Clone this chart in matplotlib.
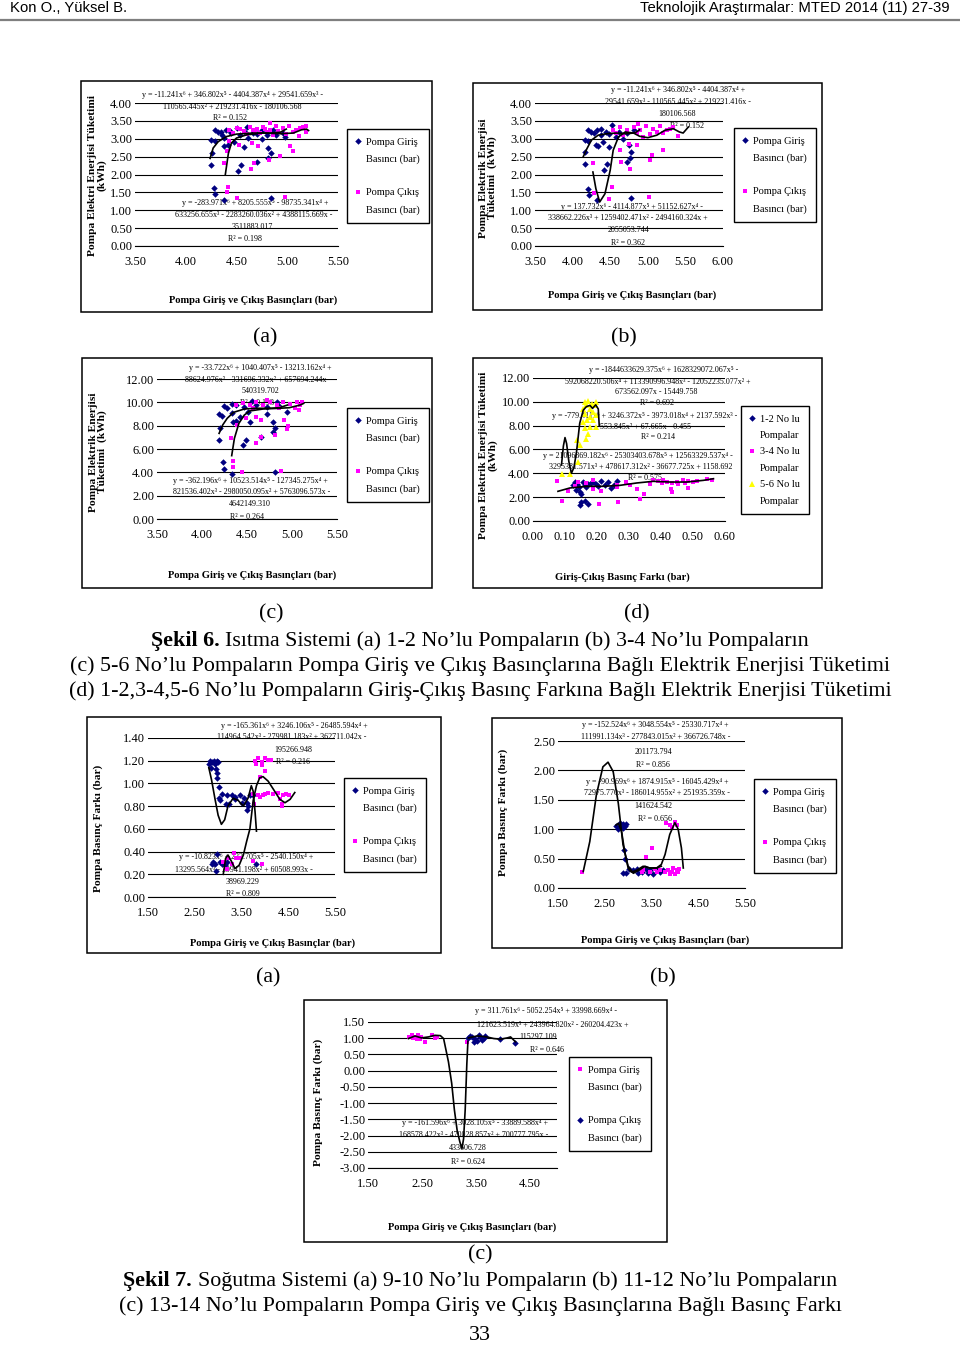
import matplotlib
matplotlib.use('Agg')
import matplotlib.pyplot as plt
from matplotlib.lines import Line2D
from matplotlib.patches import Rectangle
from matplotlib.ticker import FormatStrFormatter
import numpy as np

W, H = 960, 1345

# ---------------- Sekil 6 (a) : 1-2 No'lu pompalar ----------------
a6_giris_x = [4.25, 4.26, 4.25, 4.29, 4.28, 4.29, 4.38, 4.29, 4.32, 4.35,
              4.40, 4.38, 4.38, 4.42, 4.48, 4.50, 4.51, 4.54, 4.57, 4.60,
              4.61, 4.70, 4.75, 4.81, 4.81, 4.84, 4.84, 4.86, 4.98, 4.45,
              4.53, 4.66, 4.75, 4.80, 4.89, 4.96, 4.36, 4.44, 4.58, 4.70]
a6_giris_y = [2.27, 2.61, 2.97, 2.94, 1.61, 1.45, 1.28, 3.25, 3.20, 3.18,
              3.25, 3.02, 2.80, 2.83, 2.92, 3.30, 2.11, 2.27, 2.78, 3.34,
              3.02, 2.36, 2.99, 2.74, 2.47, 2.61, 1.33, 3.25, 3.04, 3.16,
              3.11, 3.16, 3.25, 3.11, 3.11, 3.16, 3.10, 3.22, 3.20, 3.12]
a6_cikis_x = [4.38, 4.41, 4.42, 4.41, 4.50, 4.43, 4.52, 4.64, 4.67, 4.65,
              4.71, 4.82, 4.93, 4.98, 5.03, 5.06, 5.12, 4.83, 4.43, 4.50,
              4.57, 4.63, 4.70, 4.76, 4.83, 4.89, 4.96, 5.02, 5.09, 5.16,
              5.18, 5.18, 4.47, 4.60, 4.73, 4.86, 4.99, 5.06, 4.66, 4.80,
              4.53, 4.68, 4.91, 5.13, 4.78]
a6_cikis_y = [2.31, 2.67, 1.66, 1.50, 1.33, 2.94, 2.83, 2.15, 2.33, 2.88,
              2.80, 2.41, 2.52, 1.38, 2.80, 2.66, 3.08, 3.44, 3.25, 3.30,
              3.23, 3.34, 3.27, 3.32, 3.25, 3.36, 3.30, 3.36, 3.25, 3.34,
              3.18, 3.36, 3.16, 3.14, 3.16, 3.11, 3.14, 3.20, 3.25, 3.20,
              3.28, 3.20, 3.22, 3.30, 3.28]
a6_fit1_x = [4.24, 4.27, 4.32, 4.40, 4.50, 4.66, 4.83, 4.93, 4.99]
a6_fit1_y = [2.45, 2.74, 2.92, 3.06, 3.13, 3.16, 3.16, 3.18, 3.27]
a6_fit2_x = [4.39, 4.42, 4.45, 4.50, 4.60, 4.76, 4.93, 5.06, 5.14, 5.19, 5.21]
a6_fit2_y = [2.00, 2.59, 2.88, 3.02, 3.11, 3.16, 3.14, 3.16, 3.25, 3.27, 3.23]

# ---------------- Sekil 6 (b) : 3-4 No'lu pompalar ----------------
b6_giris_x = [4.16, 4.17, 4.16, 4.21, 4.20, 4.22, 4.32, 4.20, 4.25, 4.32,
              4.38, 4.31, 4.34, 4.40, 4.42, 4.46, 4.49, 4.53, 4.49, 4.38,
              4.58, 4.72, 4.67, 4.76, 4.78, 4.75, 4.78, 4.72, 4.81, 4.28,
              4.44, 4.62]
b6_giris_y = [2.28, 2.63, 2.97, 2.94, 1.60, 1.44, 1.28, 3.25, 3.19, 3.24,
              3.28, 2.82, 2.79, 2.91, 2.12, 2.28, 2.77, 3.38, 3.14, 3.10,
              3.05, 2.35, 3.00, 2.47, 2.63, 2.82, 1.34, 3.16, 3.24, 3.15,
              3.20, 3.18]
b6_cikis_x = [4.27, 4.29, 4.52, 4.49, 4.63, 4.65, 4.76, 4.75, 4.85, 5.06,
              5.03, 5.02, 5.20, 4.87, 5.40, 4.54, 4.63, 4.72, 4.81, 4.89,
              4.98, 5.07, 5.16, 5.25, 5.34, 4.67, 4.85, 5.03, 5.20, 5.29,
              4.58, 4.94, 5.12]
b6_cikis_y = [2.33, 1.49, 1.65, 1.32, 2.68, 2.35, 2.14, 2.86, 2.83, 2.54,
              2.40, 1.37, 2.68, 3.42, 3.07, 3.24, 3.33, 3.24, 3.33, 3.25,
              3.37, 3.28, 3.35, 3.24, 3.33, 3.10, 3.16, 3.12, 3.16, 3.26,
              3.16, 3.05, 3.19]
b6_fit1_x = [4.14, 4.19, 4.25, 4.34, 4.45, 4.58, 4.72, 4.81, 4.85, 4.89]
b6_fit1_y = [2.49, 2.72, 2.96, 3.10, 3.14, 3.16, 3.14, 3.16, 3.19, 3.25]
b6_fit2_x = [4.27, 4.31, 4.36, 4.43, 4.50, 4.54, 4.61, 4.70, 4.81, 4.89,
             5.00, 5.12, 5.23, 5.34, 5.42, 5.47, 5.54]
b6_fit2_y = [2.07, 1.60, 1.23, 1.46, 2.12, 2.68, 3.05, 3.19, 3.16, 3.07,
             3.03, 3.10, 3.24, 3.28, 3.19, 3.16, 3.33]

# ---------------- Sekil 6 (c) : 5-6 No'lu pompalar ----------------
c6_giris_x = [4.19, 4.19, 4.22, 4.20, 4.23, 4.24, 4.33, 4.24, 4.28, 4.33,
              4.35, 4.38, 4.33, 4.42, 4.45, 4.49, 4.53, 4.56, 4.51, 4.66,
              4.72, 4.79, 4.79, 4.81, 4.81, 4.83, 4.94, 4.38, 4.47, 4.60,
              4.72, 4.86]
c6_giris_y = [6.77, 8.97, 8.83, 7.83, 4.86, 4.29, 3.86, 9.71, 9.54, 9.83,
              8.34, 8.40, 9.06, 8.74, 6.34, 6.77, 8.34, 10.11, 9.20, 7.06,
              8.97, 8.34, 7.43, 7.83, 4.06, 10.06, 9.20, 9.77, 9.63, 9.77,
              9.63, 9.71]
c6_cikis_x = [4.32, 4.35, 4.34, 4.44, 4.39, 4.49, 4.60, 4.66, 4.60, 4.66,
              4.81, 4.91, 4.94, 4.96, 4.88, 4.72, 4.38, 4.45, 4.53, 4.60,
              4.68, 4.75, 4.83, 4.90, 4.98, 5.05, 5.09, 5.11, 5.03, 5.08,
              4.86, 4.57]
c6_cikis_y = [6.97, 4.97, 4.49, 4.00, 8.06, 8.63, 6.49, 7.00, 8.77, 8.51,
              7.20, 8.51, 7.71, 8.00, 4.15, 10.20, 9.77, 9.91, 9.77, 10.00,
              9.77, 10.00, 9.77, 10.06, 9.83, 10.00, 9.77, 10.06, 9.49, 9.34,
              9.49, 9.49]
c6_fit1_x = [4.19, 4.23, 4.28, 4.35, 4.47, 4.60, 4.75, 4.86, 4.95]
c6_fit1_y = [7.34, 8.06, 8.63, 9.14, 9.43, 9.49, 9.49, 9.54, 9.77]
c6_fit2_x = [4.33, 4.36, 4.41, 4.47, 4.53, 4.68, 4.86, 4.97, 5.09, 5.13]
c6_fit2_y = [5.43, 6.91, 8.20, 8.91, 9.26, 9.43, 9.49, 9.54, 9.77, 9.91]

# ---------------- Sekil 6 (d) : basinc farki ----------------
d6_p12_x = [0.131, 0.134, 0.138, 0.144, 0.148, 0.151, 0.151, 0.146, 0.162, 0.172,
            0.157, 0.162, 0.172, 0.188, 0.196, 0.204, 0.214, 0.225, 0.235, 0.245,
            0.253, 0.261, 0.167, 0.125, 0.180]
d6_p12_y = [3.27, 2.57, 3.13, 2.85, 2.43, 2.29, 1.59, 1.37, 1.65, 1.45,
            3.27, 2.99, 3.13, 3.27, 3.13, 2.91, 3.33, 3.05, 3.27, 2.77,
            3.05, 3.33, 2.85, 3.05, 3.20]
d6_p34_x = [0.075, 0.091, 0.110, 0.131, 0.141, 0.167, 0.188, 0.214, 0.207, 0.261,
            0.266, 0.292, 0.303, 0.324, 0.334, 0.347, 0.365, 0.376, 0.391, 0.407,
            0.418, 0.433, 0.431, 0.433, 0.449, 0.470, 0.485, 0.485, 0.501, 0.543,
            0.559, 0.261, 0.188, 0.402, 0.454, 0.475, 0.511]
d6_p34_y = [3.36, 1.65, 2.49, 2.94, 3.27, 3.22, 3.41, 2.49, 1.45, 3.05,
            1.59, 3.27, 2.99, 2.71, 1.82, 2.29, 3.13, 3.41, 3.33, 3.41,
            3.27, 3.19, 2.66, 2.43, 3.27, 3.41, 3.33, 2.80, 3.27, 3.50,
            3.41, 2.85, 2.71, 3.22, 3.13, 3.22, 3.33]
d6_p56_x = [0.090, 0.115, 0.141, 0.136, 0.146, 0.162, 0.167, 0.172, 0.178, 0.196,
            0.162, 0.167, 0.172, 0.178, 0.183, 0.188, 0.193, 0.198, 0.157, 0.162,
            0.169, 0.178, 0.188, 0.198, 0.157]
d6_p56_y = [3.97, 3.97, 4.95, 6.77, 6.41, 7.80, 6.91, 7.33, 7.89, 7.89,
            9.99, 9.71, 10.04, 9.43, 9.85, 9.15, 9.71, 9.99, 9.43, 9.01,
            8.45, 8.73, 8.45, 8.87, 8.31]
d6_fit56_x = [0.089, 0.095, 0.100, 0.105, 0.112, 0.120, 0.128, 0.136, 0.146, 0.157,
              0.167, 0.178, 0.186, 0.196, 0.204, 0.207]
d6_fit56_y = [4.7, 6.3, 7.0, 6.5, 5.0, 4.0, 4.5, 5.8, 8.2, 9.3,
              9.6, 9.7, 9.45, 9.75, 9.4, 8.0]
d6_fitlow_x = [0.078, 0.115, 0.167, 0.219, 0.271, 0.324, 0.376, 0.428, 0.480, 0.532, 0.564]
d6_fitlow_y = [2.49, 2.77, 2.91, 2.91, 2.99, 3.19, 3.33, 3.27, 3.27, 3.41, 3.55]

# ---------------- Sekil 7 (a) : 9-10 No'lu pompalar ----------------
a7_giris_x = [2.80, 2.83, 2.87, 2.91, 2.94, 2.97, 3.00, 2.85, 2.95, 2.97,
              2.98, 3.02, 3.02, 3.09, 3.18, 3.29, 3.36, 3.46, 3.55, 3.61,
              3.69, 3.24, 3.16, 3.51, 3.61, 3.64, 3.04, 3.36, 2.89, 2.94,
              2.98, 2.96, 2.86, 3.04, 3.09, 3.14, 3.18, 3.81, 3.75]
a7_giris_y = [1.17, 1.20, 1.19, 1.20, 1.17, 1.20, 1.19, 1.14, 1.13, 1.09,
              1.05, 0.97, 0.87, 0.91, 0.90, 0.90, 0.88, 0.90, 0.87, 0.83,
              0.90, 0.82, 0.82, 0.83, 0.77, 0.80, 0.85, 0.86, 0.31, 0.29,
              0.38, 0.23, 0.29, 0.31, 0.29, 0.28, 0.31, 0.29, 0.90]
a7_cikis_x = [3.79, 3.86, 3.93, 4.00, 4.07, 4.14, 3.82, 3.93, 4.00, 3.89,
              3.74, 3.76, 3.86, 3.96, 4.07, 4.18, 4.29, 4.39, 4.46, 4.32,
              4.36, 4.37, 3.89, 4.00, 4.52, 3.11, 3.21, 3.34, 3.39, 3.46,
              3.29, 3.74, 3.94, 3.18]
a7_cikis_y = [1.20, 1.22, 1.19, 1.22, 1.21, 1.21, 1.17, 1.16, 1.11, 1.06,
              0.91, 0.82, 0.90, 0.90, 0.92, 0.91, 0.92, 0.90, 0.91, 0.86,
              0.82, 0.80, 0.88, 0.91, 0.90, 0.31, 0.34, 0.39, 0.34, 0.34,
              0.29, 0.32, 0.29, 0.25]
a7_fit1_x = [2.80, 2.86, 2.93, 3.00, 3.07, 3.14, 3.21, 3.32, 3.43, 3.54,
             3.64, 3.71, 3.75, 3.79, 3.82]
a7_fit1_y = [1.14, 1.03, 0.87, 0.72, 0.64, 0.68, 0.80, 0.87, 0.85, 0.80,
             0.87, 0.98, 0.93, 0.75, 0.58]
a7_fit2_x = [3.11, 3.16, 3.21, 3.29, 3.36, 3.45, 3.54, 3.61, 3.68, 3.75,
             3.82, 3.89, 3.96, 4.07, 4.18, 4.32, 4.43, 4.54, 4.64]
a7_fit2_y = [0.20, 0.34, 0.37, 0.31, 0.25, 0.28, 0.37, 0.49, 0.60, 0.85,
             0.98, 1.05, 1.06, 1.02, 0.95, 0.86, 0.83, 0.86, 0.92]

# ---------------- Sekil 7 (b) : 11-12 No'lu pompalar ----------------
b7_giris_x = [2.75, 2.82, 2.86, 2.89, 2.93, 2.96, 2.79, 2.88, 2.91, 2.94,
              2.88, 2.95, 3.02, 3.11, 3.18, 3.29, 3.43, 3.54, 3.61, 3.68,
              3.46, 3.39, 3.75, 3.21]
b7_giris_y = [1.06, 1.10, 1.03, 1.09, 1.06, 1.09, 1.00, 1.02, 0.65, 0.50,
              0.25, 0.25, 0.33, 0.31, 0.33, 0.28, 0.25, 0.24, 0.31, 0.28,
              0.31, 0.33, 0.31, 0.25]
b7_cikis_x = [2.02, 3.39, 3.50, 3.68, 3.79, 3.86, 3.93, 3.96, 4.04, 4.07,
              3.89, 4.00, 3.82, 3.89, 4.00, 4.04, 3.93, 4.09, 3.32, 3.46,
              3.57, 3.61, 3.29]
b7_cikis_y = [0.28, 0.52, 0.68, 0.31, 0.28, 0.31, 0.27, 0.34, 0.31, 0.27,
              0.23, 0.23, 1.10, 1.07, 1.13, 1.07, 1.04, 0.33, 0.31, 0.28,
              0.33, 0.28, 0.27]
b7_fit1_x = [2.04, 2.18, 2.32, 2.46, 2.57, 2.68, 2.79, 2.89, 3.00, 3.11,
             3.25, 3.36, 3.46, 3.61, 3.71, 3.79, 3.89, 4.00, 4.07, 4.14, 4.18]
b7_fit1_y = [0.28, 0.79, 1.58, 2.06, 2.14, 1.98, 1.44, 0.74, 0.37, 0.25,
             0.31, 0.37, 0.34, 0.34, 0.40, 0.57, 0.91, 1.11, 1.00, 0.68, 0.34]
b7_fit2_x = [2.74, 2.79, 2.86, 2.93, 3.00, 3.07, 3.18, 3.32, 3.46, 3.61, 3.71]
b7_fit2_y = [1.07, 1.10, 0.96, 0.60, 0.34, 0.27, 0.30, 0.37, 0.34, 0.34, 0.37]

# ---------------- Sekil 7 (c) : 13-14 No'lu pompalar ----------------
c7_giris_x = [2.25, 2.31, 2.37, 2.43, 2.49, 2.40, 2.46, 2.56, 2.34, 2.68, 2.74, 2.77, 3.33]
c7_giris_y = [1.04, 1.09, 1.04, 1.09, 1.04, 0.99, 0.99, 0.89, 1.01, 1.09, 1.01, 1.04, 0.89]
c7_cikis_x = [3.36, 3.43, 3.49, 3.52, 3.58, 3.64, 3.67, 3.46, 3.61, 3.95, 4.23, 3.39, 3.55]
c7_cikis_y = [1.01, 1.04, 0.99, 0.91, 1.04, 1.01, 1.07, 0.89, 0.94, 0.99, 0.84, 1.07, 1.09]
c7_fit1_x = [2.25, 2.37, 2.49, 2.62, 2.74, 2.84, 2.90, 2.99, 3.05, 3.10,
             3.15, 3.20, 3.24, 3.27, 3.30, 3.33, 3.35]
c7_fit1_y = [0.99, 1.07, 1.01, 1.04, 1.09, 1.08, 0.99, 0.27, -0.39, -1.21,
             -1.83, -2.19, -2.40, -2.10, -1.20, 0.20, 0.90]
c7_fit2_x = [3.36, 3.52, 3.70, 3.83, 3.95, 4.08, 4.14, 4.23]
c7_fit2_y = [1.01, 1.07, 1.04, 0.99, 0.97, 1.01, 1.04, 0.89]

# ---------------- metinler ----------------
lbl_giris = ['Pompa Giriş', 'Basıncı (bar)']
lbl_cikis = ['Pompa Çıkış', 'Basıncı (bar)']
xlab_basinc = 'Pompa Giriş ve Çıkış Basınçları (bar)'

plt.rcParams['font.family'] = ['Liberation Serif', 'DejaVu Serif']
SERIF = ['Liberation Serif', 'DejaVu Serif']

GIRIS = dict(marker='D', color='#000080', ms=3.3, ls='none', mew=0, zorder=2)
CIKIS = dict(marker='s', color='#ff00ff', ms=3.0, ls='none', mew=0, zorder=2)
SARI = dict(marker='^', color='#ffff00', ms=4.4, ls='none', mew=0, zorder=2)
FIT = dict(color='black', lw=1.2, zorder=3)

fig = plt.figure(figsize=(W / 100, H / 100), dpi=100)


def fx(x):
    return x / W


def fy(y):
    return 1 - y / H


def box(x0, y0, x1, y1, lw=1.1):
    fig.add_artist(Rectangle((fx(x0), fy(y1)), (x1 - x0) / W, (y1 - y0) / H,
                             transform=fig.transFigure, fill=False,
                             ec='black', lw=lw))


def chart(area, xlim, xticks, ylim, yticks):
    x0, y0, x1, y1 = area
    ax = fig.add_axes([fx(x0), fy(y1), (x1 - x0) / W, (y1 - y0) / H])
    ax.set_xlim(xlim)
    ax.set_ylim(ylim)
    ax.set_xticks(xticks)
    ax.set_yticks(yticks)
    ax.xaxis.set_major_formatter(FormatStrFormatter('%.2f'))
    ax.yaxis.set_major_formatter(FormatStrFormatter('%.2f'))
    ax.grid(axis='y', color='black', lw=0.8)
    ax.set_axisbelow(True)
    for s in ['top', 'right', 'left']:
        ax.spines[s].set_visible(False)
    ax.spines['bottom'].set_linewidth(0.8)
    ax.tick_params(axis='both', length=0, labelsize=9)
    ax.tick_params(axis='x', pad=7.5)
    ax.tick_params(axis='y', pad=2)
    ax.patch.set_alpha(0)
    return ax


def equations(ax, items):
    # trend line equations, drawn under the points
    for x, y, s in items:
        ax.text(fx(x), fy(y), s, transform=fig.transFigure, ha='center',
                va='center', fontsize=5.8, family=SERIF, zorder=1.5,
                clip_on=False)


def legend(ax, rows, cx, cy, spacing=0.72, pad=0.85):
    handles = [h if h is not None else Line2D([], [], ls='none') for h, _ in rows]
    labels = [t for _, t in rows]
    leg = ax.legend(handles, labels, loc='center', bbox_to_anchor=(fx(cx), fy(cy)),
                    bbox_transform=fig.transFigure, frameon=True, fancybox=False,
                    edgecolor='black', framealpha=1, fontsize=7.5,
                    handlelength=0.4, handletextpad=0.55, labelspacing=spacing,
                    borderpad=pad, borderaxespad=0, numpoints=1)
    leg.get_frame().set_linewidth(1.0)
    leg.set_zorder(6)


def axis_titles(ylab, ypos, xlab, xpos, ysize=8.2):
    fig.text(fx(ypos[0]), fy(ypos[1]), ylab, rotation=90, ha='center', va='center',
             fontsize=ysize, weight='bold', linespacing=1.05, multialignment='center')
    fig.text(fx(xpos[0]), fy(xpos[1]), xlab, ha='center', va='center',
             fontsize=7.6, weight='bold')


def pair_rows(h1, l1, h2, l2):
    return [(h1, l1[0]), (None, l1[1]), (None, ' '), (h2, l2[0]), (None, l2[1])]


# ---------------- header ----------------
fig.text(fx(10), fy(8), 'Kon O., Yüksel B.', fontsize=10.7,
         family=['Liberation Sans', 'DejaVu Sans'], va='center')
fig.text(fx(950), fy(8), 'Teknolojik Araştırmalar: MTED 2014 (11) 27-39', fontsize=10.7,
         family=['Liberation Sans', 'DejaVu Sans'], va='center', ha='right')
fig.add_artist(Line2D([0, 1], [fy(20), fy(20)], transform=fig.transFigure,
                      color='#7f7f7f', lw=1.6))

# ---------------- 6 (a) ----------------
box(81, 81, 432, 312)
ax = chart((135, 103, 338, 246), (3.5, 5.5), np.arange(3.5, 5.51, 0.5), (0, 4), np.arange(0, 4.01, 0.5))
h1, = ax.plot(a6_giris_x, a6_giris_y, **GIRIS)
h2, = ax.plot(a6_cikis_x, a6_cikis_y, **CIKIS)
ax.plot(a6_fit1_x, a6_fit1_y, **FIT)
ax.plot(a6_fit2_x, a6_fit2_y, **FIT)
equations(ax, [
    (232, 95, 'y = -11.241x⁶ + 346.802x⁵ - 4404.387x⁴ + 29541.659x³ -'),
    (232, 107, '110565.445x² + 219231.416x - 180106.568'),
    (230, 118, 'R² = 0.152'),
    (255, 203, 'y = -283.971x⁶ + 8205.555x⁵ - 98735.341x⁴ +'),
    (254, 215, '633256.655x³ - 2283260.036x² + 4388115.669x -'),
    (252, 227, '3511883.017'),
    (245, 239, 'R² = 0.198'),
])
legend(ax, pair_rows(h1, lbl_giris, h2, lbl_cikis), 388, 176)
axis_titles('Pompa Elektri Enerjisi Tüketimi\n(kWh)', (97, 175), xlab_basinc, (253, 300))

# ---------------- 6 (b) ----------------
box(473, 83, 822, 310)
ax = chart((535, 103, 723, 246), (3.5, 6.0), np.arange(3.5, 6.01, 0.5), (0, 4), np.arange(0, 4.01, 0.5))
h1, = ax.plot(b6_giris_x, b6_giris_y, **GIRIS)
h2, = ax.plot(b6_cikis_x, b6_cikis_y, **CIKIS)
ax.plot(b6_fit1_x, b6_fit1_y, **FIT)
ax.plot(b6_fit2_x, b6_fit2_y, **FIT)
equations(ax, [
    (678, 90, 'y = -11.241x⁶ + 346.802x⁵ - 4404.387x⁴ +'),
    (678, 102, '29541.659x³ - 110565.445x² + 219231.416x -'),
    (677, 114, '180106.568'),
    (687, 126, 'R² = 0.152'),
    (632, 207, 'y = 137.732x⁶ - 4114.877x⁵ + 51152.627x⁴ -'),
    (628, 218, '338662.226x³ + 1259402.471x² - 2494160.324x +'),
    (628, 230, '2055053.744'),
    (628, 243, 'R² = 0.362'),
])
legend(ax, pair_rows(h1, lbl_giris, h2, lbl_cikis), 775, 175)
axis_titles('Pompa Elektrik Enerjisi\nTüketimi  (kWh)', (488, 178), xlab_basinc, (632, 295))

# ---------------- 6 (c) ----------------
box(82, 358, 432, 588)
ax = chart((157, 379, 337, 519), (3.5, 5.5), np.arange(3.5, 5.51, 0.5), (0, 12), np.arange(0, 12.1, 2))
h1, = ax.plot(c6_giris_x, c6_giris_y, **GIRIS)
h2, = ax.plot(c6_cikis_x, c6_cikis_y, **CIKIS)
ax.plot(c6_fit1_x, c6_fit1_y, **FIT)
ax.plot(c6_fit2_x, c6_fit2_y, **FIT)
equations(ax, [
    (260, 368, 'y = -33.722x⁶ + 1040.407x⁵ - 13213.162x⁴ +'),
    (258, 380, '88624.976x³ - 331696.332x² + 657694.244x -'),
    (260, 391, '540319.702'),
    (257, 403, 'R² = 0.193'),
    (250, 481, 'y = -362.196x⁶ + 10523.514x⁵ - 127345.275x⁴ +'),
    (252, 492, '821536.402x³ - 2980050.095x² + 5763096.573x -'),
    (250, 504, '4642149.310'),
    (247, 517, 'R² = 0.264'),
])
legend(ax, pair_rows(h1, lbl_giris, h2, lbl_cikis), 388, 455)
axis_titles('Pompa Elektrik Enerjisi\nTüketimi  (kWh)', (98, 452), xlab_basinc, (252, 575))

# ---------------- 6 (d) ----------------
box(473, 358, 822, 588)
ax = chart((533, 378, 725, 521), (0, 0.6), np.arange(0, 0.61, 0.1), (0, 12), np.arange(0, 12.1, 2))
h1, = ax.plot(d6_p12_x, d6_p12_y, **GIRIS)
h2, = ax.plot(d6_p34_x, d6_p34_y, **CIKIS)
h3, = ax.plot(d6_p56_x, d6_p56_y, **SARI)
ax.plot(d6_fit56_x, d6_fit56_y, **FIT)
ax.plot(d6_fitlow_x, d6_fitlow_y, **FIT)
equations(ax, [
    (664, 370, 'y = -1844633629.375x⁶ + 1628329072.067x⁵ -'),
    (658, 382, '592068220.506x⁴ + 113390996.948x³ - 12052235.077x² +'),
    (656, 392, '673562.097x - 15449.758'),
    (657, 403, 'R² = 0.692'),
    (645, 416, 'y = -779.411x⁶ + 3246.372x⁵ - 3973.018x⁴ + 2137.592x³ -'),
    (646, 427, '553.845x² + 67.665x - 0.455'),
    (658, 437, 'R² = 0.214'),
    (638, 456, 'y = 21096869.182x⁶ - 25303403.678x⁵ + 12563329.537x⁴ -'),
    (641, 467, '3295381.571x³ + 478617.312x² - 36677.725x + 1158.692'),
    (645, 478, 'R² = 0.575'),
])
legend(ax, [(h1, '1-2 No lu'), (None, 'Pompalar'), (h2, '3-4 No lu'), (None, 'Pompalar'),
            (h3, '5-6 No lu'), (None, 'Pompalar')], 775, 460, spacing=0.68, pad=0.85)
axis_titles('Pompa Elektrik Enerjisi Tüketimi\n(kWh)', (488, 455),
            'Giriş-Çıkış Basınç Farkı (bar)', (622, 577))

# ---------------- 7 (a) ----------------
box(87, 717, 441, 953)
ax = chart((148, 738, 335, 897), (1.5, 5.5), np.arange(1.5, 5.51, 1.0), (0, 1.4), np.arange(0, 1.41, 0.2))
h1, = ax.plot(a7_giris_x, a7_giris_y, **GIRIS)
h2, = ax.plot(a7_cikis_x, a7_cikis_y, **CIKIS)
ax.plot(a7_fit1_x, a7_fit1_y, **FIT)
ax.plot(a7_fit2_x, a7_fit2_y, **FIT)
equations(ax, [
    (294, 726, 'y = -165.361x⁶ + 3246.106x⁵ - 26485.594x⁴ +'),
    (292, 737, '114964.542x³ - 279981.183x² + 362711.042x -'),
    (293, 750, '195266.948'),
    (293, 762, 'R² = 0.216'),
    (246, 857, 'y = -10.823x⁶ + 223.705x⁵ - 2540.150x⁴ +'),
    (244, 870, '13295.564x³ - 39941.198x² + 60508.993x -'),
    (243, 882, '38969.229'),
    (243, 894, 'R² = 0.809'),
])
legend(ax, pair_rows(h1, lbl_giris, h2, lbl_cikis), 385, 825)
axis_titles('Pompa Basınç Farkı (bar)', (98, 828), 'Pompa Giriş ve Çıkış Basınçlar (bar)', (273, 943))

# ---------------- 7 (b) ----------------
box(492, 718, 842, 948)
ax = chart((558, 741, 745, 888), (1.5, 5.5), np.arange(1.5, 5.51, 1.0), (0, 2.5), np.arange(0, 2.51, 0.5))
h1, = ax.plot(b7_giris_x, b7_giris_y, **GIRIS)
h2, = ax.plot(b7_cikis_x, b7_cikis_y, **CIKIS)
ax.plot(b7_fit1_x, b7_fit1_y, **FIT)
ax.plot(b7_fit2_x, b7_fit2_y, **FIT)
equations(ax, [
    (655, 725, 'y = -152.524x⁶ + 3048.554x⁵ - 25330.717x⁴ +'),
    (656, 737, '111991.134x³ - 277843.015x² + 366726.748x -'),
    (653, 752, '201173.794'),
    (653, 765, 'R² = 0.856'),
    (657, 782, 'y = -90.969x⁶ + 1874.915x⁵ - 16045.429x⁴ +'),
    (657, 793, '72975.770x³ - 186014.955x² + 251935.359x -'),
    (653, 806, '141624.542'),
    (655, 819, 'R² = 0.656'),
])
legend(ax, pair_rows(h1, lbl_giris, h2, lbl_cikis), 795, 826)
axis_titles('Pompa Basınç Farkı (bar)', (503, 812), xlab_basinc, (665, 940))

# ---------------- 7 (c) ----------------
box(304, 1000, 667, 1242)
ax = chart((368, 1022, 557, 1168), (1.5, 5.0), np.arange(1.5, 4.51, 1.0), (-3, 1.5), np.arange(-3, 1.51, 0.5))
h2, = ax.plot(c7_giris_x, c7_giris_y, **CIKIS)
h1, = ax.plot(c7_cikis_x, c7_cikis_y, **GIRIS)
ax.plot(c7_fit1_x, c7_fit1_y, **FIT)
ax.plot(c7_fit2_x, c7_fit2_y, **FIT)
equations(ax, [
    (546, 1011, 'y = 311.761x⁶ - 5052.254x⁵ + 33998.669x⁴ -'),
    (553, 1025, '121623.519x³ + 243964.820x² - 260204.423x +'),
    (538, 1037, '115297.109'),
    (547, 1050, 'R² = 0.646'),
    (475, 1123, 'y = -161.596x⁶ + 3028.105x⁵ - 33889.588x⁴ +'),
    (474, 1135, '168578.422x³ - 470028.857x² + 700777.795x -'),
    (468, 1148, '433606.728'),
    (468, 1162, 'R² = 0.624'),
])
legend(ax, pair_rows(h2, lbl_giris, h1, lbl_cikis), 610, 1104)
axis_titles('Pompa Basınç Farkı (bar)', (318, 1102), xlab_basinc, (472, 1227))

# ---------------- sub labels and captions ----------------
CAP = 15.8
for s, x, y in [('(a)', 265, 338), ('(b)', 624, 338), ('(c)', 271, 614), ('(d)', 637, 614),
                ('(a)', 268, 978), ('(b)', 663, 978), ('(c)', 480, 1255)]:
    fig.text(fx(x), fy(y), s, ha='center', va='center', fontsize=CAP)

renderer = fig.canvas.get_renderer()


def caption(y, bold, rest):
    t1 = fig.text(0, fy(y), bold, fontsize=CAP, weight='bold', va='baseline')
    t2 = fig.text(0, fy(y), rest, fontsize=CAP, va='baseline')
    w1 = t1.get_window_extent(renderer).width
    w2 = t2.get_window_extent(renderer).width
    x0 = 480 - (w1 + w2) / 2
    t1.set_x(fx(x0))
    t2.set_x(fx(x0 + w1))


caption(646, 'Şekil 6. ', 'Isıtma Sistemi (a) 1-2 No’lu Pompaların (b) 3-4 No’lu Pompaların')
caption(671, '', '(c) 5-6 No’lu Pompaların Pompa Giriş ve Çıkış Basınçlarına Bağlı Elektrik Enerjisi Tüketimi')
caption(696, '', '(d) 1-2,3-4,5-6 No’lu Pompaların Giriş-Çıkış Basınç Farkına Bağlı Elektrik Enerjisi Tüketimi')
caption(1286, 'Şekil 7. ', 'Soğutma Sistemi (a) 9-10 No’lu Pompaların (b) 11-12 No’lu Pompaların')
caption(1311, '', '(c) 13-14 No’lu Pompaların Pompa Giriş ve Çıkış Basınçlarına Bağlı Basınç Farkı')
fig.text(0.5, fy(1336), '33', ha='center', va='center', fontsize=CAP)

fig.savefig('out.png', dpi=100)
